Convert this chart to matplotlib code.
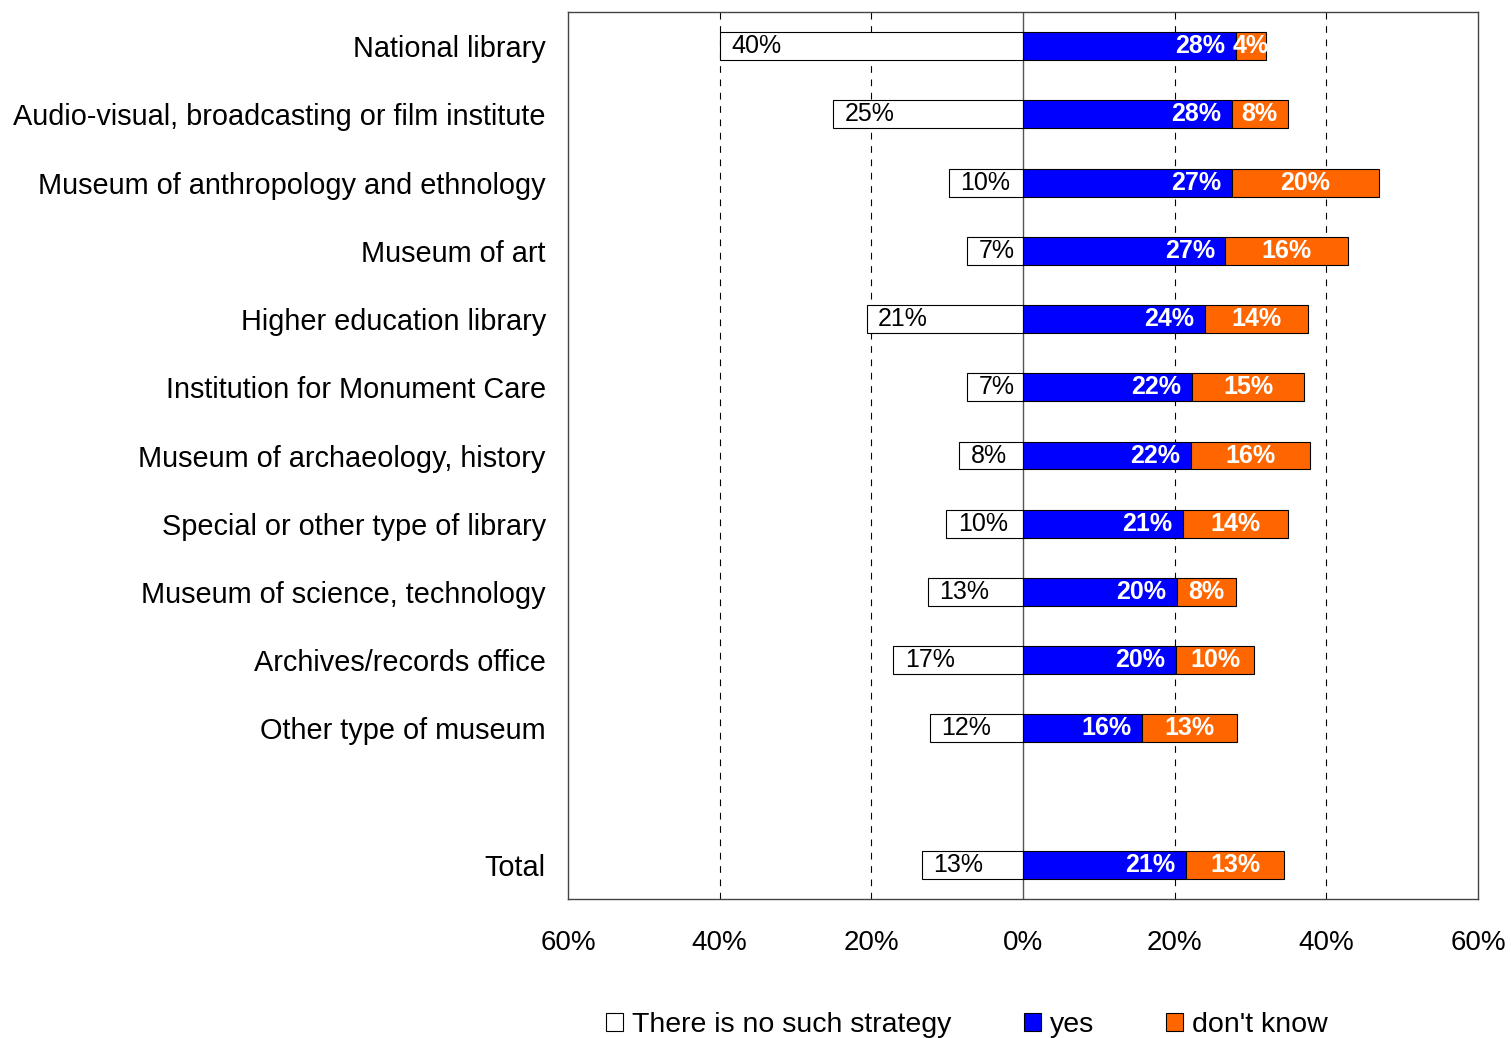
import matplotlib
matplotlib.use("Agg")
import matplotlib.pyplot as plt
from matplotlib.patches import Patch
from matplotlib.ticker import FuncFormatter

plt.rcParams['font.family'] = ['Liberation Sans', 'DejaVu Sans']

categories = ["National library", "Audio-visual, broadcasting or film institute",
              "Museum of anthropology and ethnology", "Museum of art",
              "Higher education library", "Institution for Monument Care",
              "Museum of archaeology, history", "Special or other type of library",
              "Museum of science, technology", "Archives/records office",
              "Other type of museum", "", "Total"]
no_strategy = [40.0, 25.0, 9.8, 7.4, 20.6, 7.4, 8.4, 10.1, 12.5, 17.1, 12.3, None, 13.3]
yes = [28.1, 27.5, 27.5, 26.7, 24.0, 22.3, 22.1, 21.1, 20.3, 20.2, 15.7, None, 21.5]
dont_know = [3.9, 7.4, 19.5, 16.2, 13.6, 14.8, 15.7, 13.8, 7.8, 10.3, 12.5, None, 12.9]
no_labels = ["40%", "25%", "10%", "7%", "21%", "7%", "8%", "10%", "13%", "17%", "12%", "", "13%"]
yes_labels = ["28%", "28%", "27%", "27%", "24%", "22%", "22%", "21%", "20%", "20%", "16%", "", "21%"]
dk_labels = ["4%", "8%", "20%", "16%", "14%", "15%", "16%", "14%", "8%", "10%", "13%", "", "13%"]
series_names = ["There is no such strategy", "yes", "don't know"]

BLUE = "#0000FF"
ORANGE = "#FF6600"

fig = plt.figure(figsize=(15.11, 10.38), dpi=100)
ax = fig.add_axes([568/1511, 1 - 899/1038, (1478-568)/1511, (899-12)/1038])

h = 0.41
LF = 18
for i, cat in enumerate(categories):
    if no_strategy[i] is None:
        continue
    n, y_, d = no_strategy[i], yes[i], dont_know[i]
    ax.barh(i, -n, height=h, left=0, color="white", edgecolor="black", linewidth=0.8, zorder=3)
    ax.barh(i, y_, height=h, left=0, color=BLUE, edgecolor="black", linewidth=0.8, zorder=3)
    ax.barh(i, d, height=h, left=y_, color=ORANGE, edgecolor="black", linewidth=0.8, zorder=3)
    ax.text(-n + 1.5, i, no_labels[i], ha="left", va="center", fontsize=LF, color="black", zorder=4)
    ax.text(y_ - 1.4, i, yes_labels[i], ha="right", va="center", fontsize=LF, color="white",
            fontweight="bold", zorder=4)
    ax.text(y_ + d / 2, i, dk_labels[i], ha="center", va="center", fontsize=LF, color="white",
            fontweight="bold", zorder=4)

ax.set_ylim(12.5, -0.5)
ax.set_xlim(-60, 60)
ax.set_yticks(range(len(categories)))
ax.set_yticklabels(categories, fontsize=20.8)
ax.set_xticks([-60, -40, -20, 0, 20, 40, 60])
ax.xaxis.set_major_formatter(FuncFormatter(lambda v, p: f"{abs(int(round(v)))}%"))
ax.tick_params(axis="x", labelsize=20, length=0, pad=22)
ax.tick_params(axis="y", length=0, pad=16)
for x in [-40, -20, 20, 40]:
    ax.axvline(x, color="black", linestyle=(0, (6, 6)), linewidth=0.8, zorder=1)
ax.axvline(0, color="#555555", linewidth=1.0, zorder=2)
for s in ax.spines.values():
    s.set_color("#444444")
    s.set_linewidth(1.0)

handles = [Patch(facecolor="white", edgecolor="black", linewidth=0.8),
           Patch(facecolor=BLUE, edgecolor="black", linewidth=0.8),
           Patch(facecolor=ORANGE, edgecolor="black", linewidth=0.8)]
fig.legend(handles, series_names, loc="center", bbox_to_anchor=(967/1511, 1 - 1025/1038),
           ncol=3, frameon=False, fontsize=20.5, handlelength=0.6, handleheight=0.6,
           handletextpad=0.3, columnspacing=2.55, borderpad=0)

fig.savefig("out.png", dpi=100)
